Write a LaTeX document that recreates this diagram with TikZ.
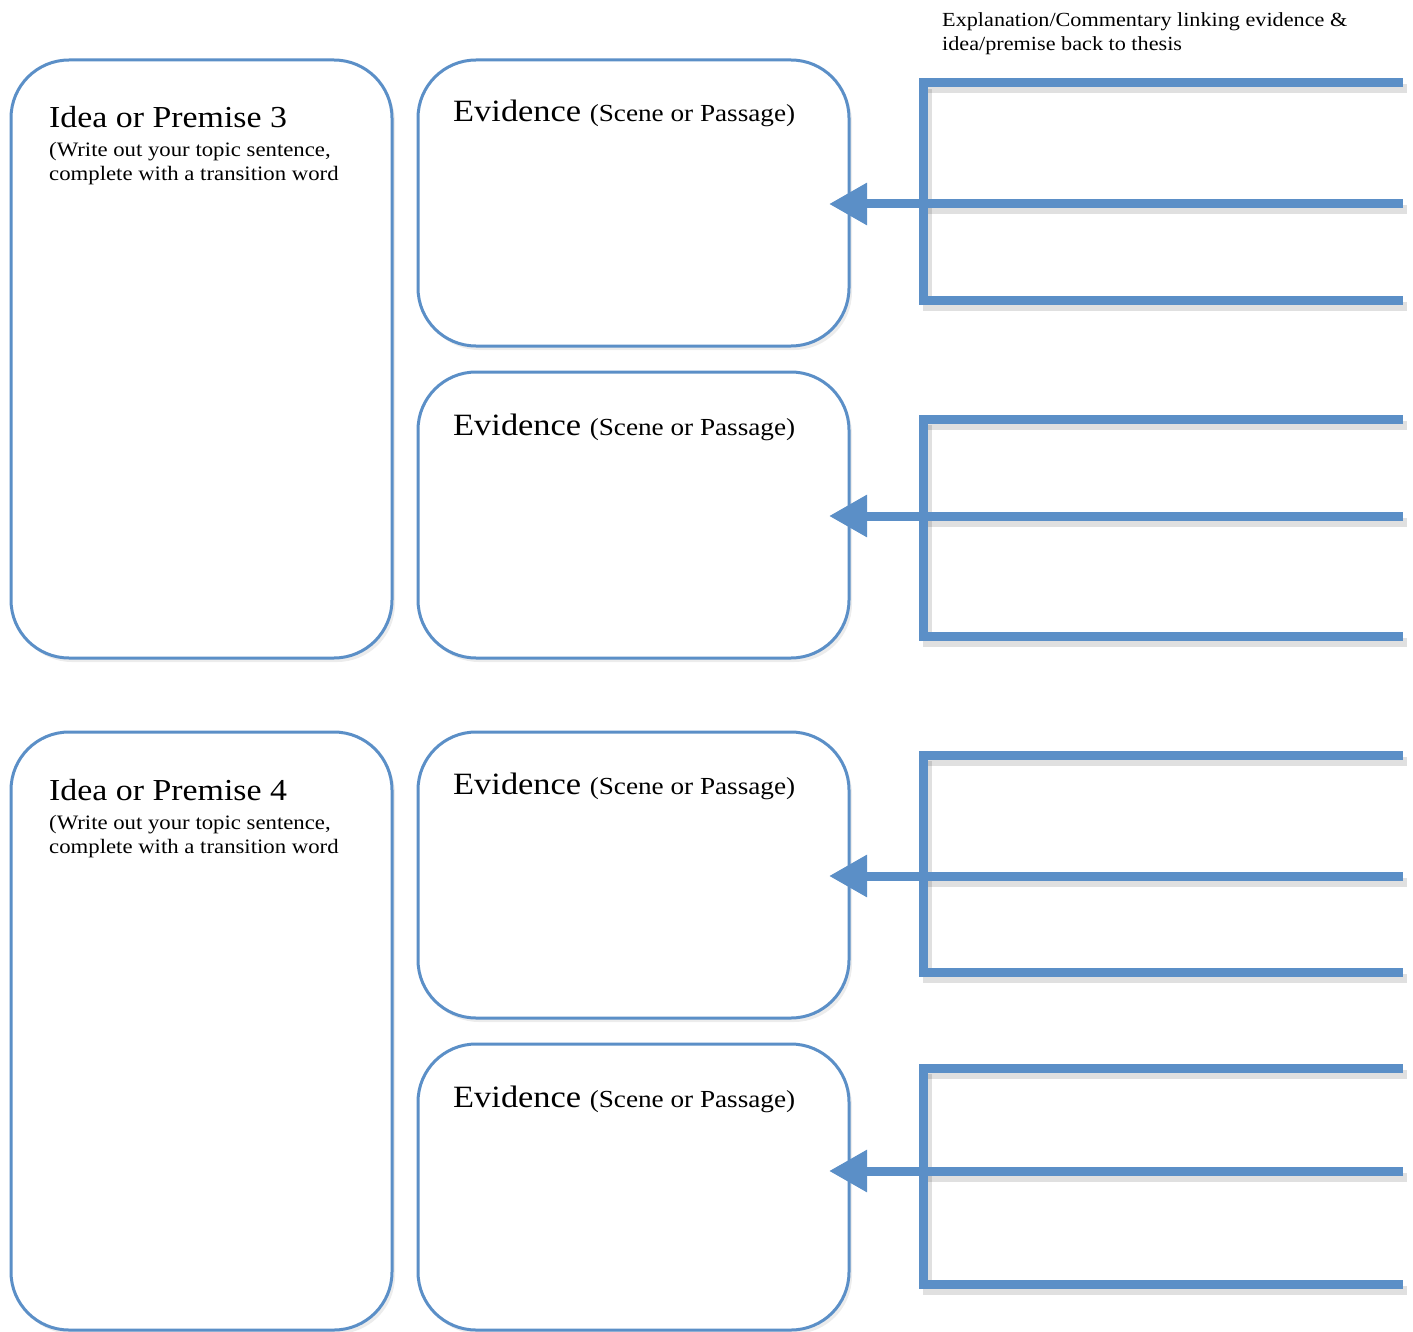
\documentclass[tikz,border=0pt]{standalone}
\usepackage{fontspec}
\setmainfont[FakeStretch=1.11]{Liberation Serif}
\usetikzlibrary{arrows.meta,shadows}
\definecolor{boxblue}{RGB}{91,143,199}
\newcommand\evsm{\fontsize{24.5}{28}\selectfont}
\tikzset{
  panel/.style={draw=boxblue, line width=3pt, rounded corners=58pt, fill=white,
    inner sep=0pt, outer sep=0pt, anchor=north west,
    drop shadow={opacity=0.15, shadow xshift=3pt, shadow yshift=-4pt}},
  ideapanel/.style={panel, minimum width=381pt, minimum height=598pt},
  evpanel/.style={panel, minimum width=431pt, minimum height=286pt},
  titletext/.style={anchor=base west, inner sep=0pt, font=\fontsize{30.5}{36}\selectfont},
  subtext/.style={anchor=base west, inner sep=0pt, align=left, font=\fontsize{20.5}{24}\selectfont},
  evtext/.style={anchor=base west, inner sep=0pt, font=\fontsize{31}{36}\selectfont},
  notetext/.style={anchor=base west, inner sep=0pt, align=left, font=\fontsize{20}{24}\selectfont},
  bracketline/.style={draw=boxblue, line width=9pt, line join=miter},
  bracketshadow/.style={draw=black, opacity=0.12, line width=9pt},
  linkarrow/.style={draw=boxblue, line width=9pt, -{Triangle[length=38pt,width=40pt]}},
}
\begin{document}
\begin{tikzpicture}[x=1pt,y=-1pt]
\useasboundingbox (0,0) rectangle (1413,1332);
% panels
\node[ideapanel] (idea3) at (11,60) {};
\node[evpanel] (ev1) at (418,60) {};
\node[evpanel] (ev2) at (418,372) {};
\node[ideapanel] (idea4) at (11,732) {};
\node[evpanel] (ev3) at (418,732) {};
\node[evpanel] (ev4) at (418,1044) {};
% texts
\node[titletext] (t3) at (49,128) {Idea or Premise 3};
\node[subtext] (s3) at (49,181) {(Write out your topic sentence,\\complete with a transition word};
\node[titletext] (t4) at (49,800) {Idea or Premise 4};
\node[subtext] (s4) at (49,853) {(Write out your topic sentence,\\complete with a transition word};
\node[evtext] (e1) at (453,122) {Evidence {\evsm(Scene or Passage)}};
\node[evtext] (e2) at (453,435) {Evidence {\evsm(Scene or Passage)}};
\node[evtext] (e3) at (453,794) {Evidence {\evsm(Scene or Passage)}};
\node[evtext] (e4) at (453,1107) {Evidence {\evsm(Scene or Passage)}};
\node[notetext] (note) at (942,51) {Explanation/Commentary linking evidence \&\\idea/premise back to thesis};
% brackets
\foreach \n/\top/\mid/\bot in {1/83/204/300, 2/419/516/636, 3/755/876/972, 4/1068/1171/1284}{
  \draw[bracketshadow] (927,\top+6) -- (927,\bot+6) -- (1407,\bot+6);
  \draw[bracketshadow] (927,\top+6) -- (1407,\top+6);
  \draw[bracketshadow] (927,\mid+6) -- (1407,\mid+6);
  \coordinate (bt\n) at (1403,\top);
  \coordinate (bb\n) at (1403,\bot);
  \coordinate (bm\n) at (1403,\mid);
  \coordinate (tip\n) at (829,\mid);
  \draw[bracketline] (bt\n) -- (923,\top) -- (923,\bot) -- (bb\n);
}
\draw[linkarrow] (bm1) -- (tip1);
\draw[linkarrow] (bm2) -- (tip2);
\draw[linkarrow] (bm3) -- (tip3);
\draw[linkarrow] (bm4) -- (tip4);
\end{tikzpicture}
\end{document}
